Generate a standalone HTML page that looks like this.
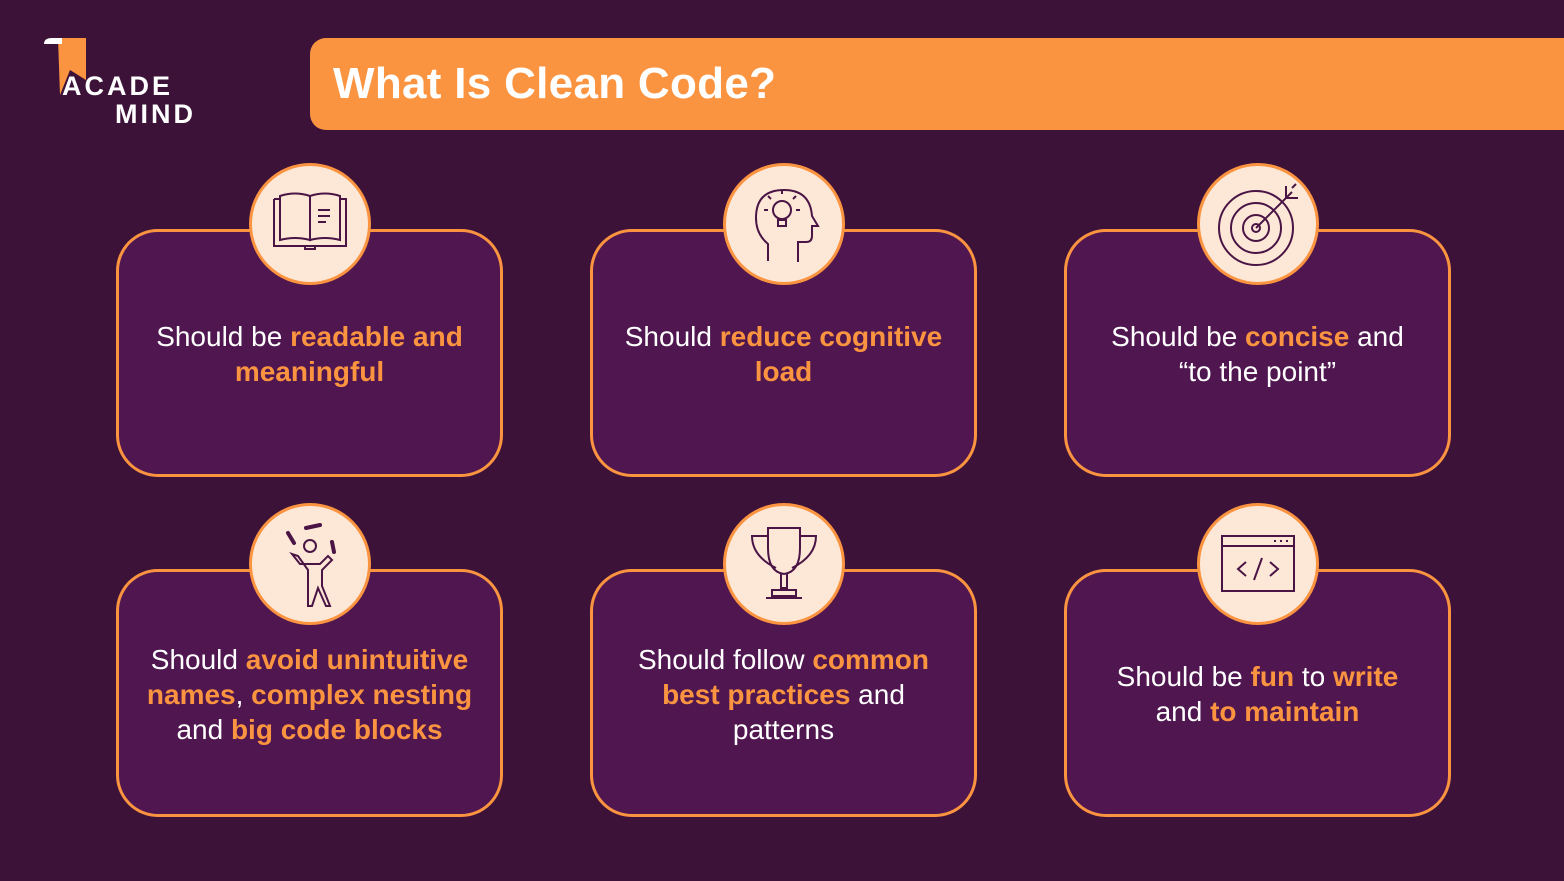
<!DOCTYPE html>
<html><head><meta charset="utf-8"><style>
*{margin:0;padding:0;box-sizing:border-box}
body{width:1564px;height:881px;background:#3d1239;position:relative;overflow:hidden;font-family:"Liberation Sans",sans-serif}
.logo{position:absolute;left:0;top:0}
.title{position:absolute;left:310px;top:38px;width:1300px;height:92px;background:#fb9440;border-radius:16px;color:#fff;font-weight:bold;font-size:44px;line-height:92px;padding-left:23px;letter-spacing:0.3px}
.card{position:absolute;width:387px;height:248px;background:#4f1650;border:3px solid #fb9440;border-radius:42px;color:#fff;font-size:28px;line-height:35px;text-align:center;display:flex;align-items:center;justify-content:center;padding:2px 14px 0}
.card b{color:#fb9440}
.circ{position:absolute;width:122px;height:122px;border-radius:50%;background:#fde8d8;border:3px solid #fb9440}
.circ svg{position:absolute;left:0;top:0}
</style></head><body>
<div class="logo">
<svg width="210" height="130">
<path d="M58 38 H86 V80 L70 70 L60 95 Z" fill="#fb9440"/>
<path d="M44 44 q0-6 8-6 h10 v6 z" fill="#fff"/>
<text x="62" y="95" fill="#fff" font-family="Liberation Sans" font-weight="bold" font-size="27" letter-spacing="3">ACADE</text>
<text x="115" y="123" fill="#fff" font-family="Liberation Sans" font-weight="bold" font-size="27" letter-spacing="3">MIND</text>
</svg></div>
<div class="title">What Is Clean Code?</div>

<div class="card" style="left:116px;top:229px"><div>Should be <b>readable and<br>meaningful</b></div></div>
<div class="card" style="left:590px;top:229px"><div>Should <b>reduce cognitive<br>load</b></div></div>
<div class="card" style="left:1064px;top:229px"><div>Should be <b>concise</b> and<br>“to the point”</div></div>
<div class="card" style="left:116px;top:569px"><div>Should <b>avoid unintuitive</b><br><b>names</b>, <b>complex nesting</b><br>and <b>big code blocks</b></div></div>
<div class="card" style="left:590px;top:569px"><div>Should follow <b>common</b><br><b>best practices</b> and<br>patterns</div></div>
<div class="card" style="left:1064px;top:569px"><div>Should be <b>fun</b> to <b>write</b><br>and <b>to maintain</b></div></div>

<div class="circ" style="left:249px;top:163px"><svg width="116" height="116" fill="none" stroke="#4a1545" stroke-width="2"><path d="M22 33 H28 M88 33 H94 V80 H22 V33"/><path d="M28 30 q15-5 30 0 v44 q-15-4-30 0 z M58 30 q15-5 30 0 v44 q-15-4-30 0 z"/><path d="M66 44h12M66 50h12M66 56h8M53 80v3h10v-3"/></svg></div>
<div class="circ" style="left:723px;top:163px"><svg width="116" height="116" fill="none" stroke="#4a1545" stroke-width="2"><path d="M42 95 V78 q-12-10-12-26 q0-28 28-28 q26 0 28 26 l6 10 h-6 v10 q0 6-6 6 h-8 v20"/><circle cx="56" cy="44" r="9"/><path d="M52 54h8v6h-8zM56 28v-4M42 44h-4M74 44h-4M45 33l-3-3M67 33l3-3"/></svg></div>
<div class="circ" style="left:1197px;top:163px"><svg width="116" height="116" fill="none" stroke="#4a1545" stroke-width="2"><circle cx="56" cy="62" r="37"/><circle cx="56" cy="62" r="25"/><circle cx="56" cy="62" r="13"/><circle cx="56" cy="62" r="4"/><path d="M56 62 L92 26 M86 20 v12 h12 M92 22 l4 -4"/></svg></div>
<div class="circ" style="left:249px;top:503px"><svg width="116" height="116" fill="none" stroke="#4a1545" stroke-width="2"><circle cx="58" cy="40" r="6"/><path d="M40 48 l8 10 h20 l8-8 l4 4 l-10 10 v16 l8 20 h-4 l-8-18 l-6 18 h-4 v-36 l-10 -14 z"/><path d="M36 27 l6 10 M54 22 l14 -3 M80 36 l2 10" stroke-width="4" stroke-linecap="round"/></svg></div>
<div class="circ" style="left:723px;top:503px"><svg width="116" height="116" fill="none" stroke="#4a1545" stroke-width="2"><path d="M42 22 h32 v20 q0 24-16 26 q-16-2-16-26 z"/><path d="M42 30 h-16 q0 20 24 32 M74 30 h16 q0 20-24 32"/><path d="M55 68 v14 h6 v-14 M46 84 h24 v6 h-24 z M40 92 h36"/></svg></div>
<div class="circ" style="left:1197px;top:503px"><svg width="116" height="116" fill="none" stroke="#4a1545" stroke-width="2"><rect x="22" y="30" width="72" height="55"/><path d="M22 40 h72 M46 56 l-8 7 l8 7 M70 56 l8 7 l-8 7 M62 52 l-8 22"/><path d="M74 35h2M80 35h2M86 35h2"/></svg></div>
</body></html>
